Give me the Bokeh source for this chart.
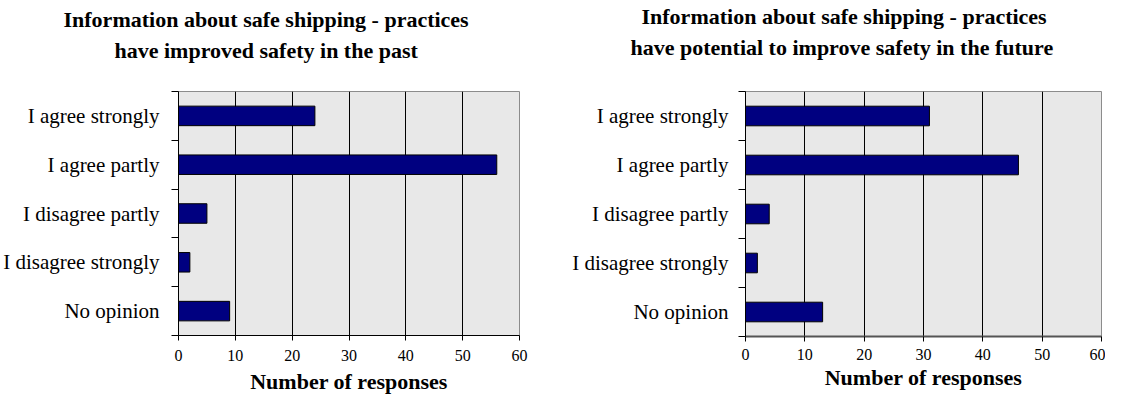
from bokeh.plotting import figure
from bokeh.models import Range1d, FactorRange, FixedTicker, LinearAxis, Title, ColumnDataSource
from bokeh.layouts import row
from bokeh.embed import file_html
from bokeh.resources import INLINE

# ---- data ----
categories = ["I agree strongly", "I agree partly", "I disagree partly",
              "I disagree strongly", "No opinion"]
past_values = [24, 56, 5, 2, 9]
future_values = [31, 46, 4, 2, 13]
x_ticks = [0, 10, 20, 30, 40, 50, 60]
grid_ticks = [10, 20, 30, 40, 50]
left_title = ["Information about safe shipping  - practices",
              "have improved safety in the past"]
right_title = ["Information about safe shipping - practices",
               "have potential to improve safety in the future"]
x_label = "Number of responses"

FONT = "Liberation Serif"
BAR = "#000080"
BG = "#e8e8e8"


def make_chart(values, title_lines, min_left, frame_w, min_right, top, frame_h,
               bottom, offsets, spacer_standoff, tick_standoff, label_standoff,
               cat_standoff, xaxis_color, xaxis_width):
    factors = list(reversed(categories))
    p = figure(y_range=FactorRange(factors=factors), x_range=Range1d(0, 60),
               frame_width=frame_w, frame_height=frame_h,
               min_border_left=min_left, min_border_right=min_right,
               min_border_top=top, min_border_bottom=bottom,
               output_backend="svg", toolbar_location=None,
               y_axis_location=None)
    p.background_fill_color = BG
    p.border_fill_color = "white"
    p.outline_line_color = "#8c8c8c"
    p.outline_line_width = 1

    src = ColumnDataSource(dict(cat=categories, val=values))
    p.hbar(y="cat", right="val", left=0, height=0.4, source=src,
           fill_color=BAR, line_color="black", line_width=1)

    # grids
    p.xgrid.ticker = FixedTicker(ticks=grid_ticks)
    p.xgrid.grid_line_color = "black"
    p.xgrid.grid_line_width = 1
    p.ygrid.grid_line_color = None

    # x axis
    xa = p.xaxis[0]
    xa.ticker = FixedTicker(ticks=x_ticks)
    xa.axis_line_color = xaxis_color
    xa.axis_line_width = xaxis_width
    xa.major_tick_line_color = "black"
    xa.major_tick_out = 5
    xa.major_tick_in = 0
    xa.minor_tick_line_color = None
    xa.major_label_text_font = FONT
    xa.major_label_text_font_size = "16px"
    xa.major_label_text_color = "black"
    xa.major_label_standoff = tick_standoff
    xa.axis_label = x_label
    xa.axis_label_text_font = FONT
    xa.axis_label_text_font_size = "22px"
    xa.axis_label_text_font_style = "bold"
    xa.axis_label_text_color = "black"
    xa.axis_label_standoff = label_standoff

    # y axis: labels at category centres, tick marks at category boundaries
    n = len(factors)
    centers = [i + 0.5 for i in range(n)]
    bounds = [float(i) for i in range(n + 1)]
    ya = LinearAxis(ticker=FixedTicker(ticks=centers, minor_ticks=bounds),
                    major_label_overrides={c: f for c, f in zip(centers, factors)})
    ya.axis_line_color = "black"
    ya.major_tick_line_color = None
    ya.major_tick_out = 0
    ya.major_tick_in = 0
    ya.minor_tick_line_color = "black"
    ya.minor_tick_out = 7
    ya.minor_tick_in = 0
    ya.major_label_text_font = FONT
    ya.major_label_text_font_size = "21px"
    ya.major_label_text_color = "black"
    ya.major_label_standoff = cat_standoff
    p.add_layout(ya, "left")

    # titles (spacer nearest the frame, then line 2, then line 1)
    p.add_layout(Title(text=" ", text_font=FONT, text_font_size="10px",
                       standoff=spacer_standoff), "above")
    p.add_layout(Title(text=title_lines[1], align="left", offset=offsets[1],
                       text_font=FONT, text_font_size="22px",
                       text_font_style="bold", text_color="black",
                       standoff=4), "above")
    p.add_layout(Title(text=title_lines[0], align="left", offset=offsets[0],
                       text_font=FONT, text_font_size="22px",
                       text_font_style="bold", text_color="black",
                       standoff=3), "above")
    return p


p1 = make_chart(past_values, left_title, 177, 341, 35, 87, 244, 62,
                (-115, -64), 14, 9, 5, 12, "black", 1)
p2 = make_chart(future_values, right_title, 191, 356, 4, 91, 245, 57,
                (-104, -115), 17, 7, 2, 10, "#555555", 2)

layout = row(p1, p2)
open("out.html", "w").write(file_html(layout, INLINE))
